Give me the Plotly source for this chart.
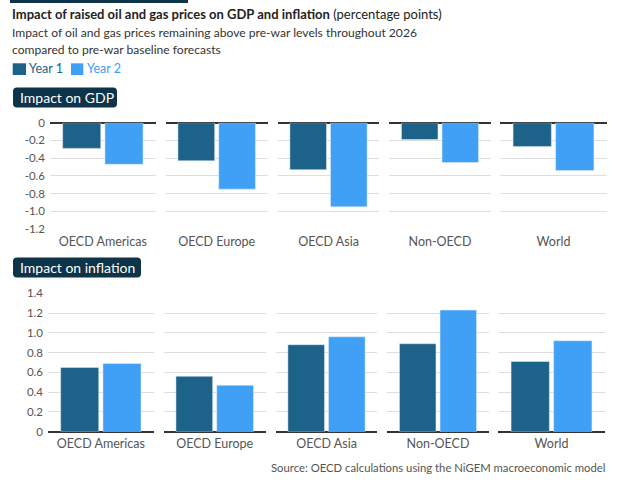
import plotly.graph_objects as go

regions = ["OECD Americas", "OECD Europe", "OECD Asia", "Non-OECD", "World"]
gdp_year1 = [-0.29, -0.43, -0.53, -0.19, -0.27]
gdp_year2 = [-0.47, -0.75, -0.95, -0.45, -0.54]
infl_year1 = [0.65, 0.56, 0.88, 0.89, 0.71]
infl_year2 = [0.69, 0.47, 0.96, 1.23, 0.92]
gdp_ticks = [0, -0.2, -0.4, -0.6, -0.8, -1.0, -1.2]
gdp_ticktext = ["0", "-0.2", "-0.4", "-0.6", "-0.8", "-1.0", "-1.2"]
infl_ticks = [0, 0.2, 0.4, 0.6, 0.8, 1.0, 1.2, 1.4]
infl_ticktext = ["0", "0.2", "0.4", "0.6", "0.8", "1.0", "1.2", "1.4"]

W, H = 625, 482
C1 = "#1d6288"
C2 = "#40a0f6"
NAVY = "#0d3449"
FONT = "Lato"

panels_px = [(50, 155.7), (165.7, 267.7), (277.7, 379.3), (389.3, 490.7), (500.3, 606.7)]
gdp_y_px = (122.7, 229.0)
infl_y_px = (293.3, 431.7)

def px_x(a):
    return a / W

def px_y(a):
    return 1 - a / H

fig = go.Figure()
layout = {}
for i, reg in enumerate(regions):
    for row, (v1, v2, ypx, rng, tv, tt) in enumerate([
        (gdp_year1, gdp_year2, gdp_y_px, [-1.2, 0], gdp_ticks, gdp_ticktext),
        (infl_year1, infl_year2, infl_y_px, [0, 1.4], infl_ticks, infl_ticktext),
    ]):
        n = row * 5 + i + 1
        xa = "x" if n == 1 else f"x{n}"
        ya = "y" if n == 1 else f"y{n}"
        fig.add_trace(go.Bar(x=[reg], y=[v1[i]], name="Year 1", marker_color=C1,
                             xaxis=xa, yaxis=ya, showlegend=False, hoverinfo="skip"))
        fig.add_trace(go.Bar(x=[reg], y=[v2[i]], name="Year 2", marker_color=C2,
                             xaxis=xa, yaxis=ya, showlegend=False, hoverinfo="skip"))
        x0, x1 = panels_px[i]
        if row == 1:
            x0 -= 2
            x1 -= 2
        layout["xaxis" if n == 1 else f"xaxis{n}"] = dict(
            domain=[px_x(x0), px_x(x1)], anchor=ya, type="category",
            showgrid=False, showline=False, ticks="", zeroline=False,
            ticklabelstandoff=3,
            tickfont=dict(family=FONT, size=12.5, color="#555555"),
            fixedrange=True, automargin=False,
        )
        layout["yaxis" if n == 1 else f"yaxis{n}"] = dict(
            domain=[px_y(ypx[1]), px_y(ypx[0])], anchor=xa, range=rng,
            tickvals=tv, ticktext=tt, showticklabels=(i == 0),
            showgrid=True, gridcolor="#dedede", gridwidth=1,
            zeroline=True, zerolinecolor="#333333", zerolinewidth=2,
            showline=False, ticks="", ticklabelstandoff=4,
            tickfont=dict(family=FONT, size=11.5, color="#555555"),
            fixedrange=True, automargin=False,
        )

fig.update_layout(**layout)

annotations = [
    dict(x=px_x(10), y=px_y(14), xref="paper", yref="paper", xanchor="left", yanchor="middle",
         text="<b>Impact of raised oil and gas prices on GDP and inflation</b> (percentage points)",
         showarrow=False, font=dict(family=FONT, size=13, color="#222222")),
    dict(x=px_x(10), y=px_y(33), xref="paper", yref="paper", xanchor="left", yanchor="middle",
         text="Impact of oil and gas prices remaining above pre-war levels throughout 2026",
         showarrow=False, font=dict(family=FONT, size=12.1, color="#333333")),
    dict(x=px_x(10), y=px_y(50), xref="paper", yref="paper", xanchor="left", yanchor="middle",
         text="compared to pre-war baseline forecasts",
         showarrow=False, font=dict(family=FONT, size=12.1, color="#333333")),
    dict(x=px_x(27), y=px_y(69), xref="paper", yref="paper", xanchor="left", yanchor="middle",
         text="Year 1", showarrow=False, font=dict(family=FONT, size=12.5, color=C1)),
    dict(x=px_x(85), y=px_y(69), xref="paper", yref="paper", xanchor="left", yanchor="middle",
         text="Year 2", showarrow=False, font=dict(family=FONT, size=12.5, color=C2)),
    dict(x=px_x(18), y=px_y(97.5), xref="paper", yref="paper", xanchor="left", yanchor="middle",
         text="Impact on GDP", showarrow=False, font=dict(family=FONT, size=14, color="white")),
    dict(x=px_x(18), y=px_y(267.5), xref="paper", yref="paper", xanchor="left", yanchor="middle",
         text="Impact on inflation", showarrow=False, font=dict(family=FONT, size=14, color="white")),
    dict(x=px_x(607), y=px_y(467), xref="paper", yref="paper", xanchor="right", yanchor="middle",
         text="Source: OECD calculations using the NiGEM macroeconomic model",
         showarrow=False, font=dict(family=FONT, size=11.3, color="#555555")),
]

def rrect(x0, y0, x1, y1, r=4):
    X0, X1 = px_x(x0), px_x(x1)
    Y0, Y1 = px_y(y0), px_y(y1)
    rx, ry = r / W, r / H
    return (f"M {X0+rx},{Y0} L {X1-rx},{Y0} Q {X1},{Y0} {X1},{Y0-ry} "
            f"L {X1},{Y1+ry} Q {X1},{Y1} {X1-rx},{Y1} L {X0+rx},{Y1} "
            f"Q {X0},{Y1} {X0},{Y1+ry} L {X0},{Y0-ry} Q {X0},{Y0} {X0+rx},{Y0} Z")

shapes = [
    dict(type="path", xref="paper", yref="paper", path=rrect(13, 87.5, 117, 107.5),
         fillcolor=NAVY, line=dict(width=0), layer="below"),
    dict(type="path", xref="paper", yref="paper", path=rrect(13, 257.5, 141, 277.5),
         fillcolor=NAVY, line=dict(width=0), layer="below"),
    dict(type="rect", xref="paper", yref="paper", x0=px_x(10), x1=px_x(188), y0=px_y(3), y1=px_y(0),
         fillcolor=NAVY, line=dict(width=0)),
    dict(type="rect", xref="paper", yref="paper", x0=px_x(12.7), x1=px_x(26), y0=px_y(75), y1=px_y(63.3),
         fillcolor=C1, line=dict(width=0)),
    dict(type="rect", xref="paper", yref="paper", x0=px_x(71), x1=px_x(83.3), y0=px_y(75), y1=px_y(63.3),
         fillcolor=C2, line=dict(width=0)),
]

fig.update_layout(
    width=W, height=H, margin=dict(l=0, r=0, t=0, b=0, pad=0, autoexpand=False),
    paper_bgcolor="white", plot_bgcolor="white",
    barmode="group", bargap=0.2, bargroupgap=0.1,
    annotations=annotations, shapes=shapes, showlegend=False,
    font=dict(family=FONT),
)

post = ("var gd=document.getElementById('{plot_id}');"
        "gd.style.position='fixed';gd.style.top='0px';gd.style.left='0px';"
        "document.body.style.margin='0';document.body.style.overflow='hidden';"
        "document.documentElement.style.overflow='hidden';")
fig.write_html("out.html", config={"displayModeBar": False}, post_script=post)
